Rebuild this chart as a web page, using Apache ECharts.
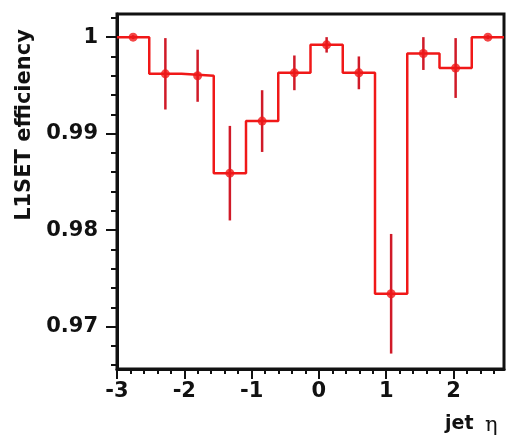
<!DOCTYPE html>
<html>
<head>
<meta charset="utf-8">
<title>L1SET efficiency vs jet eta</title>
<script src="https://cdn.jsdelivr.net/npm/echarts@6/dist/echarts.min.js"></script>
<style>
  html, body { margin: 0; padding: 0; background: #ffffff; }
  #chart { width: 517px; height: 443px; }
</style>
</head>
<body>
<div id="chart"></div>
<script>
// Histogram binning in jet eta
const etaMin = -3;
const etaMax = 2.75;
const nBins = 12;

// L1SET efficiency per eta bin and its statistical uncertainty
const efficiency = [1.0000, 0.9962, 0.9960, 0.9859, 0.9913, 0.9963, 0.9992, 0.9963, 0.9734, 0.9983, 0.9968, 1.0000];
const efficiencyErr = [0.0002, 0.0037, 0.0027, 0.0049, 0.0032, 0.0018, 0.0008, 0.0017, 0.0062, 0.0017, 0.0031, 0.0002];

// Axis ranges and tick labels
const effMin = 0.9656;
const effMax = 1.0024;
const xTickValues = [-3, -2, -1, 0, 1, 2];
const yTickValues = [0.97, 0.98, 0.99, 1];

// Minor tick positions (every 0.2 in eta, every 0.002 in efficiency)
const xMinorTicks = [];
for (let k = 0; k <= 28; k++) xMinorTicks.push(+(etaMin + 0.2 * k).toFixed(3));
const yMinorTicks = [];
for (let k = 0; k <= 18; k++) yMinorTicks.push(+(0.966 + 0.002 * k).toFixed(4));

// Derived histogram geometry: bin edges, centers, step outline, error bars
const binWidth = (etaMax - etaMin) / nBins;
const centers = efficiency.map((_, i) => etaMin + (i + 0.5) * binWidth);
const stepOutline = [];
efficiency.forEach((v, i) => {
  stepOutline.push([etaMin + i * binWidth, v]);
  stepOutline.push([etaMin + (i + 1) * binWidth, v]);
});
const errorBars = efficiency.map((v, i) => [centers[i], v - efficiencyErr[i], v + efficiencyErr[i]]);
const markers = efficiency.map((v, i) => [centers[i], v]);

const labelFont = { fontFamily: 'DejaVu Sans', fontWeight: 'bold', fontSize: 21, color: '#111111' };
const RED = '#f01818';
const ERR = '#d01a28';

const chart = echarts.init(document.getElementById('chart'), null, { renderer: 'canvas' });

chart.setOption({
  backgroundColor: '#ffffff',
  animation: false,
  grid: {
    left: 117, right: 13, top: 14, bottom: 74,
    show: true, borderColor: '#111111', borderWidth: 3, backgroundColor: 'transparent'
  },
  xAxis: [
    {
      type: 'value', min: etaMin, max: etaMax, position: 'bottom',
      axisLine: { show: true, onZero: false, lineStyle: { color: '#111111', width: 3 } },
      axisTick: { show: true, customValues: xTickValues, length: 10, lineStyle: { color: '#111111', width: 2 } },
      axisLabel: Object.assign({ customValues: xTickValues, margin: 12, formatter: v => String(v) }, labelFont),
      splitLine: { show: false }
    },
    {
      type: 'value', min: etaMin, max: etaMax, position: 'bottom',
      axisLine: { show: false, onZero: false },
      axisTick: { show: true, customValues: xMinorTicks, length: 5, lineStyle: { color: '#111111', width: 2 } },
      axisLabel: { show: false },
      splitLine: { show: false }
    }
  ],
  yAxis: [
    {
      type: 'value', min: effMin, max: effMax, position: 'left',
      axisLine: { show: true, onZero: false, lineStyle: { color: '#111111', width: 3 } },
      axisTick: { show: true, customValues: yTickValues, length: 11, lineStyle: { color: '#111111', width: 2 } },
      axisLabel: Object.assign({ customValues: yTickValues, margin: 19, formatter: v => String(+v.toFixed(2)) }, labelFont),
      splitLine: { show: false }
    },
    {
      type: 'value', min: effMin, max: effMax, position: 'left',
      axisLine: { show: false, onZero: false },
      axisTick: { show: true, customValues: yMinorTicks, length: 6, lineStyle: { color: '#111111', width: 2 } },
      axisLabel: { show: false },
      splitLine: { show: false }
    }
  ],
  series: [
    {
      type: 'line', xAxisIndex: 0, yAxisIndex: 0,
      data: stepOutline, showSymbol: false, symbol: 'none',
      lineStyle: { color: RED, width: 2.5 }, z: 2
    },
    {
      type: 'custom', xAxisIndex: 0, yAxisIndex: 0,
      data: errorBars,
      encode: { x: 0, y: [1, 2] },
      renderItem: (params, api) => {
        const p1 = api.coord([api.value(0), api.value(1)]);
        const p2 = api.coord([api.value(0), api.value(2)]);
        return {
          type: 'line',
          shape: { x1: p1[0], y1: p1[1], x2: p2[0], y2: p2[1] },
          style: { stroke: ERR, lineWidth: 2.5 }
        };
      },
      z: 3
    },
    {
      type: 'scatter', xAxisIndex: 0, yAxisIndex: 0,
      data: markers, symbol: 'circle', symbolSize: 9,
      itemStyle: { color: RED }, z: 4
    }
  ],
  graphic: [
    {
      type: 'text', x: 25, y: 125, rotation: Math.PI / 2,
      style: {
        text: 'L1SET efficiency', font: 'bold 21px "DejaVu Sans"', fill: '#111111',
        align: 'center', verticalAlign: 'middle'
      }
    },
    {
      type: 'text', x: 445, y: 424,
      style: { text: 'jet', font: 'bold 19px "DejaVu Sans"', fill: '#111111', align: 'left', verticalAlign: 'middle' }
    },
    {
      type: 'text', x: 485, y: 426,
      style: { text: 'η', font: '21px "DejaVu Serif"', fill: '#111111', align: 'left', verticalAlign: 'middle' }
    }
  ]
});
</script>
</body>
</html>
